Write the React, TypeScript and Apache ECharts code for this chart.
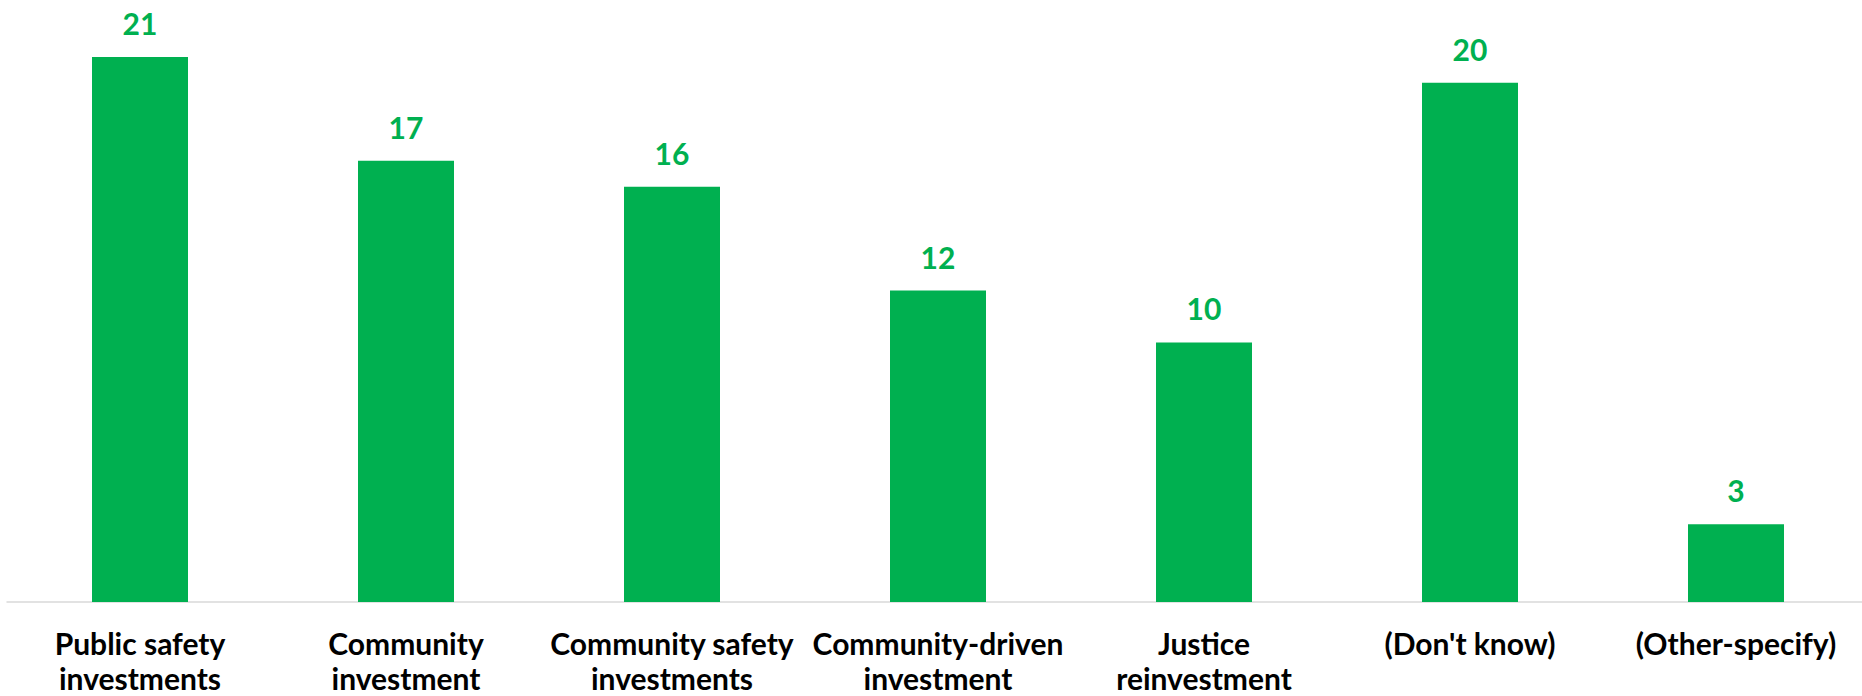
import React, { useEffect, useRef } from "react";
import * as echarts from "echarts";

const categories = [
  "Public safety\ninvestments",
  "Community\ninvestment",
  "Community safety\ninvestments",
  "Community-driven\ninvestment",
  "Justice\nreinvestment",
  "(Don't know)",
  "(Other-specify)",
];
const values = [21, 17, 16, 12, 10, 20, 3];

const GREEN = "#00B050";
const FONT = "Lato, 'Open Sans', sans-serif";

export default function App() {
  const ref = useRef<HTMLDivElement>(null);
  useEffect(() => {
    if (!ref.current) return;
    const chart = echarts.init(ref.current, undefined, { renderer: "svg" });
    chart.setOption({
      animation: false,
      backgroundColor: "#ffffff",
      grid: { left: 7, right: 0, top: 5, bottom: 94 },
      xAxis: {
        type: "category",
        data: categories,
        axisLine: { show: true, lineStyle: { color: "#d9d9d9", width: 1.5 } },
        axisTick: { show: false },
        axisLabel: {
          interval: 0,
          margin: 23,
          color: "#000000",
          fontFamily: FONT,
          fontWeight: "bold",
          fontSize: 30,
          lineHeight: 35,
        },
      },
      yAxis: {
        type: "value",
        min: 0,
        max: 23,
        show: false,
        splitLine: { show: false },
      },
      series: [
        {
          type: "bar",
          data: values,
          barWidth: 96,
          itemStyle: { color: GREEN },
          label: {
            show: true,
            position: "top",
            distance: 19,
            color: GREEN,
            fontFamily: FONT,
            fontWeight: "bold",
            fontSize: 30,
          },
        },
      ],
    });
    return () => chart.dispose();
  }, []);
  return (
    <div style={{ position: "fixed", left: 0, top: 0, width: 1862, height: 696, overflow: "hidden", background: "#ffffff" }}>
      <div ref={ref} style={{ position: "absolute", left: 0, top: 0, width: 1869, height: 696 }} />
    </div>
  );
}
